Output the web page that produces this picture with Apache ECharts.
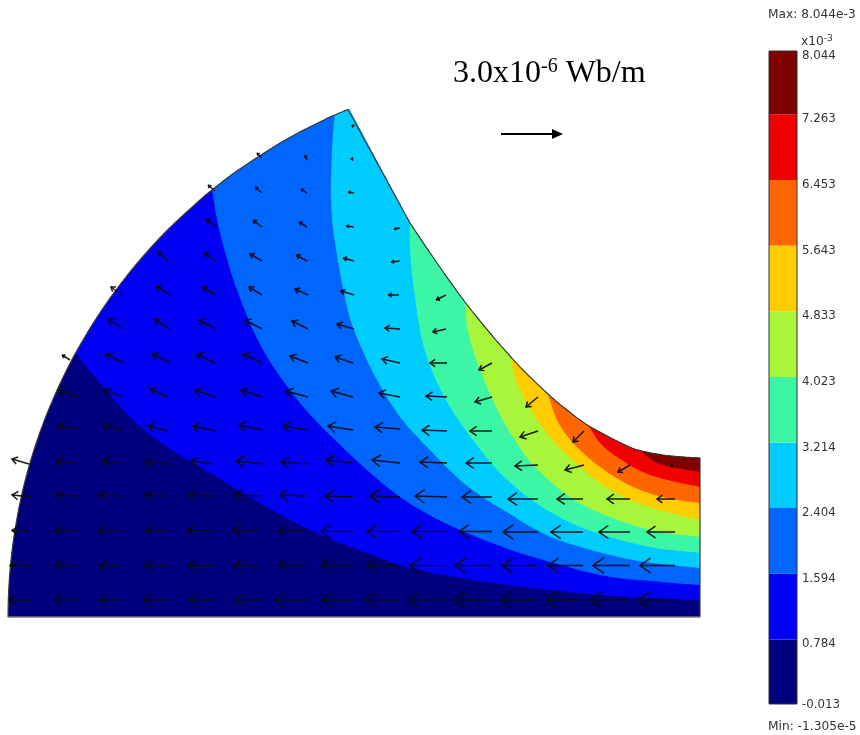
<!DOCTYPE html>
<html><head><meta charset="utf-8">
<style>html,body{margin:0;padding:0;background:#fff}#c{width:860px;height:735px}</style>
<script src="https://cdn.jsdelivr.net/npm/echarts@6/dist/echarts.min.js"></script>
</head><body><div id="c"></div>
<script>
// Model boundary: bottom-left, outer arc, apex, concave air-gap arc, right-top
const outerArc = [[8,617],[8.7,590],[11,560],[15,530],[20.6,500],[28,470],[37.3,440],[48.5,410],[61.8,380],[75.6,353],[95.3,320],[116,290],[140,260],[167.6,230],[200,200],[212,190],[238.3,170],[285.2,140],[323.8,120],[334.7,115],[349,109]];
const concaveArc = [[410,223],[437,263],[465,302],[490,333],[510,356],[523,370],[548,394],[567,410],[589,426],[623,444],[640,450.5],[667,455.5],[700,458]];
const rightBottom = [700,617];

// Contour lines, each from the top boundary to the right edge
const c0784 = [[75.6,353],[100,383],[133,420],[167,447],[200,467],[233,487],[267,507],[300,525],[333,540],[367,553],[400,565],[433,573],[467,579],[500,584],[550,590],[600,595],[650,598],[700,600]];
const c1594 = [[212,190],[220,233],[237,290],[263,350],[300,403],[333,438],[367,470],[400,497],[433,517],[467,533],[500,546],[533,557],[600,575],[650,581],[700,585]];
const c2404 = [[334.7,115],[332,150],[331,200],[335,243],[347,307],[358,340],[377,380],[400,417],[427,447],[460,480],[487,500],[510,514],[533,528],[567,543],[633,560],[700,568]];
const c3214 = [[410,223],[410,250],[414,290],[422,340],[433,373],[450,407],[473,440],[500,473],[533,501],[567,521],[600,534],[650,547],[700,553]];
const c4023 = [[465,302],[467,325],[472,347],[482,375],[500,415],[517,443],[533,465],[567,495],[600,513],[650,530],[700,537]];
const c4833 = [[510,356],[517,383],[533,413],[550,437],[567,455],[600,483],[633,501],[667,512],[700,520]];
const c5643 = [[548,394],[557,420],[573,443],[600,467],[633,487],[667,498],[700,503]];
const c6453 = [[589,426],[600,443],[617,457],[650,475],[700,487]];
const c7263 = [[640,450.5],[657,463],[677,468],[700,472]];

// Colour scale
const bandColors = ['#00007f','#0000f5','#0066ff','#00ccff','#3cf5a5','#a8f53c','#ffcc00','#ff6600','#f00000','#7f0000'];
const levels = [-0.013,0.784,1.594,2.404,3.214,4.023,4.833,5.643,6.453,7.263,8.044];
const tickLabels = ['-0.013','0.784','1.594','2.404','3.214','4.023','4.833','5.643','6.453','7.263','8.044'];

// Flux-density arrows by row: [tail x, tail y, dx, dy]
const row0 = [[32,600,-23,0],[78,600,-23,0],[124,600,-25,0],[170,600,-27,0],[216,600,-27,0],[262,600,-28,0],[308,600,-33,0],[354,600,-33,0],[400,600,-35,0],[446,600,-38,0],[492,600,-38,0],[538,600,-37,0],[584,600,-38,0],[630,600,-40,0],[676,600,-38,0]];
const row1 = [[32,565.5,-22,0],[78,565.5,-23,0],[122,565.5,-22,0],[169,565.5,-25,0],[215,565.5,-27,0],[260,565.5,-27,0],[306,565.5,-28,0],[353,565.5,-32,0],[400,565.5,-33,0],[447,565.5,-37,0],[492,565.5,-37,0],[537,565.5,-35,0],[583,565.5,-35,0],[630,565.5,-37,0],[675,565.5,-35,0]];
const row2 = [[30,530.5,-18,0],[78,530.5,-23,0],[122,530.5,-23,0],[170,530.5,-25,0],[213,530.5,-26,0],[260,530.5,-27,0],[306,530.5,-28,0],[353,531.5,-32,0],[400,531.5,-33,0],[447,531.5,-35,0],[492,531.5,-33,0],[538,532,-35,0],[583,532,-32,0],[630,532,-31,0],[675,532,-28,0]];
const row3 = [[32,497,-20,-2],[80,496,-25,-1],[123,496,-25,-1],[170,496,-25,-1],[215,496,-27,-1],[262,496,-28,-1],[307,496,-27,-1],[353,497,-28,-1],[400,497,-30,-1],[447,497,-32,-1],[492,497,-30,0],[538,499,-30,0],[583,499,-26,0],[630,499,-23,0],[675,499,-18,0]];
const row4 = [[29,464,-17,-5],[78,464,-22,-3],[122,464,-20,-3],[172,464,-27,-2],[213,464,-22,-3],[263,464,-27,-3],[308,464,-27,-2],[353,463,-27,-3],[400,463,-28,-3],[447,463,-27,-1],[492,463,-26,0],[538,465,-23,1],[584,465,-19,5],[630,465,-12,7],[673,466,-3,0]];
const row5 = [[78,429,-20,-4],[122,430,-18,-5],[168,431,-20,-5],[215,431,-22,-5],[262,430,-23,-5],[308,430,-25,-4],[353,430,-25,-4],[400,429,-25,-2],[447,431,-25,-1],[492,431,-22,0],[538,431,-18,6],[584,431,-11,11]];
const row6 = [[78,397,-20,-7],[122,397,-17,-7],[168,397,-18,-8],[215,397,-20,-7],[262,397,-21,-7],[308,397,-22,-6],[353,397,-22,-6],[400,397,-21,-4],[447,397,-21,-1],[492,397,-17,5],[538,397,-12,10]];
const row7 = [[70,360,-8,-5],[123,363,-17,-9],[170,363,-18,-9],[215,363,-18,-9],[262,363,-19,-9],[308,363,-18,-7],[353,363,-18,-6],[400,363,-18,-4],[447,363,-17,0],[492,363,-13,7]];
const row8 = [[123,329,-15,-10],[170,329,-16,-10],[216,329,-17,-9],[262,329,-17,-9],[308,329,-16,-8],[354,329,-17,-5],[400,329,-15,-1],[446,329,-13,3]];
const row9 = [[122,295,-11,-8],[170,295,-14,-9],[216,295,-14,-8],[262,295,-13,-8],[308,295,-13,-6],[354,295,-13,-4],[399,295,-11,0],[446,295,-10,5]];
const row10 = [[169,261,-11,-9],[216,261,-12,-8],[262,261,-12,-7],[307,261,-11,-6],[354,261,-11,-3],[400,261,-9,1]];
const row11 = [[216,227,-10,-8],[262,227,-9,-7],[307,227,-8,-5],[354,227,-8,-1],[400,228,-6,1]];
const row12 = [[215,191,-7,-6],[262,193,-7,-6],[307,193,-6,-4],[354,193,-6,-1]];
const row13 = [[262,158,-5,-5],[307,160,-2,-5],[353,159,-2.5,0]];
const row14 = [[353,126,-1,-1]];
const scaleArrow = [[501,134,62,0]];

const arrows = [row0,row1,row2,row3,row4,row5,row6,row7,row8,row9,row10,row11,row12,row13,row14].flat();

// Rendering only: round the read-off vertices into a curve through them
function curve(pts){
  const out=[];
  for(let i=0;i<pts.length-1;i++){
    const p0=pts[Math.max(i-1,0)],p1=pts[i],p2=pts[i+1],p3=pts[Math.min(i+2,pts.length-1)];
    for(let k=0;k<8;k++){
      const t=k/8,t2=t*t,t3=t2*t;
      out.push([0,1].map(function(d){
        return 0.5*(2*p1[d]+(p2[d]-p0[d])*t+(2*p0[d]-5*p1[d]+4*p2[d]-p3[d])*t2+(3*p1[d]-p0[d]-3*p2[d]+p3[d])*t3);
      }));
    }
  }
  out.push(pts[pts.length-1]);
  return out;
}
const topEdge = curve(outerArc).concat(curve(concaveArc));
const contours = [c0784,c1594,c2404,c3214,c4023,c4833,c5643,c6453,c7263];

// Nested regions: each one holds everything above its contour
const regions = [topEdge.concat([rightBottom])];
contours.forEach(function(c){
  const i = topEdge.findIndex(function(p){return Math.abs(p[0]-c[0][0])<1e-6&&Math.abs(p[1]-c[0][1])<1e-6;});
  regions.push(curve(c).concat(topEdge.slice(i+1).reverse()));
});
const topOutline = topEdge.concat([rightBottom]);
const bottomOutline = [rightBottom, topEdge[0]];

const sans = 'DejaVu Sans';
const small = {fontFamily:sans,fontSize:12.2,color:'#333',fontWeight:'normal'};
const chart = echarts.init(document.getElementById('c'));
chart.setOption({
  animation:false,
  backgroundColor:'#ffffff',
  title:[
    {left:768,top:9,padding:0,text:'Max: 8.044e-3',textStyle:small},
    {left:768,top:721,padding:0,text:'Min: -1.305e-5',textStyle:small},
    {left:801,top:34,padding:0,text:'x10{s|-3}',textStyle:Object.assign({},small,{rich:{s:{fontFamily:sans,fontSize:9,color:'#333',padding:[0,0,6,0]}}})},
    {left:453,top:57,padding:0,text:'{a|3.0x10}{s|-6}{a| Wb/m}',textStyle:{fontWeight:'normal',rich:{
      a:{fontFamily:'Liberation Serif',fontSize:32,color:'#000'},
      s:{fontFamily:'Liberation Serif',fontSize:20,color:'#000',padding:[0,0,13,0]}}}}
  ],
  grid:[
    {left:0,top:0,width:860,height:735},
    {left:769,top:51,width:28,height:653}
  ],
  xAxis:[
    {type:'value',gridIndex:0,min:0,max:860,show:false},
    {type:'value',gridIndex:1,min:0,max:1,show:false}
  ],
  yAxis:[
    {type:'value',gridIndex:0,min:0,max:735,inverse:true,show:false},
    {type:'value',gridIndex:1,min:levels[0],max:levels[levels.length-1],position:'right',
     axisLine:{show:false},axisTick:{show:false},splitLine:{show:false},
     axisLabel:{show:true,customValues:levels,margin:5,hideOverlap:false,
       formatter:function(v){
         const i = levels.findIndex(function(l){return Math.abs(l-v)<1e-6;});
         return (i===0?'{e|':'{d|')+tickLabels[i]+'}';
       },
       rich:{d:{fontFamily:sans,fontSize:11.8,color:'#333',padding:[10,0,0,0]},
             e:{fontFamily:sans,fontSize:11.8,color:'#333',padding:[2,0,0,0]}}}}
  ],
  series:[
    {type:'custom',name:'Flux bands',coordinateSystem:'cartesian2d',xAxisIndex:0,yAxisIndex:0,silent:true,clip:false,z:1,
     data:regions.map(function(r,i){return [i];}),
     encode:{x:[],y:[]},
     renderItem:function(params,api){
       const i = api.value(0);
       return {type:'polygon',shape:{points:regions[i].map(function(p){return api.coord(p);})},style:{fill:bandColors[i],stroke:null}};
     }},
    {type:'line',name:'Model outline',xAxisIndex:0,yAxisIndex:0,data:topOutline,symbol:'none',silent:true,z:2,
     lineStyle:{color:'#3a3a3a',width:1.2}},
    {type:'line',name:'Model base',xAxisIndex:0,yAxisIndex:0,data:bottomOutline,symbol:'none',silent:true,z:2,
     lineStyle:{color:'#777',width:1.6}},
    {type:'custom',name:'Flux arrows',coordinateSystem:'cartesian2d',xAxisIndex:0,yAxisIndex:0,silent:true,clip:false,z:3,
     data:arrows,encode:{x:0,y:1},
     renderItem:function(params,api){
       const t = api.coord([api.value(0),api.value(1)]);
       const h = api.coord([api.value(0)+api.value(2),api.value(1)+api.value(3)]);
       const dx=t[0]-h[0],dy=t[1]-h[1],L=Math.sqrt(dx*dx+dy*dy)||1,ux=dx/L,uy=dy/L;
       const bl=Math.max(2.2,L*0.3),bw=Math.max(1.6,L*0.21);
       const b0=h[0]+ux*bl,b1=h[1]+uy*bl;
       const a=[b0-uy*bw,b1+ux*bw],c=[b0+uy*bw,b1-ux*bw];
       const col='rgba(10,10,15,0.92)',small=L<13;
       return {type:'group',children:[
         {type:'line',shape:{x1:t[0],y1:t[1],x2:h[0],y2:h[1]},style:{stroke:col,lineWidth:1.5,fill:null}},
         small
          ?{type:'polygon',shape:{points:[a,h,c]},style:{fill:col,stroke:col,lineWidth:0.8}}
          :{type:'polyline',shape:{points:[a,h,c]},style:{stroke:col,lineWidth:1.5,fill:null}}
       ]};
     }},
    {type:'custom',name:'Scale arrow',coordinateSystem:'cartesian2d',xAxisIndex:0,yAxisIndex:0,silent:true,clip:false,z:3,
     data:scaleArrow,encode:{x:0,y:1},
     renderItem:function(params,api){
       const t = api.coord([api.value(0),api.value(1)]);
       const h = api.coord([api.value(0)+api.value(2),api.value(1)+api.value(3)]);
       return {type:'group',children:[
         {type:'line',shape:{x1:t[0],y1:t[1],x2:h[0]-8,y2:h[1]},style:{stroke:'#000',lineWidth:2,fill:null}},
         {type:'polygon',shape:{points:[[h[0]-11,h[1]-5],[h[0],h[1]],[h[0]-11,h[1]+5]]},style:{fill:'#000'}}
       ]};
     }},
    {type:'custom',name:'Colour bar',coordinateSystem:'cartesian2d',xAxisIndex:1,yAxisIndex:1,silent:true,clip:false,z:2,
     data:bandColors.map(function(c,i){return [0,levels[i],1,levels[i+1],i];}),
     encode:{x:[0,2],y:[1,3]},
     renderItem:function(params,api){
       const a = api.coord([api.value(0),api.value(3)]);
       const b = api.coord([api.value(2),api.value(1)]);
       return {type:'rect',shape:{x:a[0],y:a[1],width:b[0]-a[0],height:b[1]-a[1]},style:{fill:bandColors[api.value(4)],stroke:null}};
     }},
    {type:'custom',name:'Colour bar frame',coordinateSystem:'cartesian2d',xAxisIndex:1,yAxisIndex:1,silent:true,clip:false,z:3,
     data:[[0,levels[0],1,levels[levels.length-1]]],
     encode:{x:[0,2],y:[1,3]},
     renderItem:function(params,api){
       const a = api.coord([api.value(0),api.value(3)]);
       const b = api.coord([api.value(2),api.value(1)]);
       return {type:'rect',shape:{x:a[0],y:a[1],width:b[0]-a[0],height:b[1]-a[1]},style:{fill:null,stroke:'#333',lineWidth:1}};
     }}
  ]
});
</script></body></html>
